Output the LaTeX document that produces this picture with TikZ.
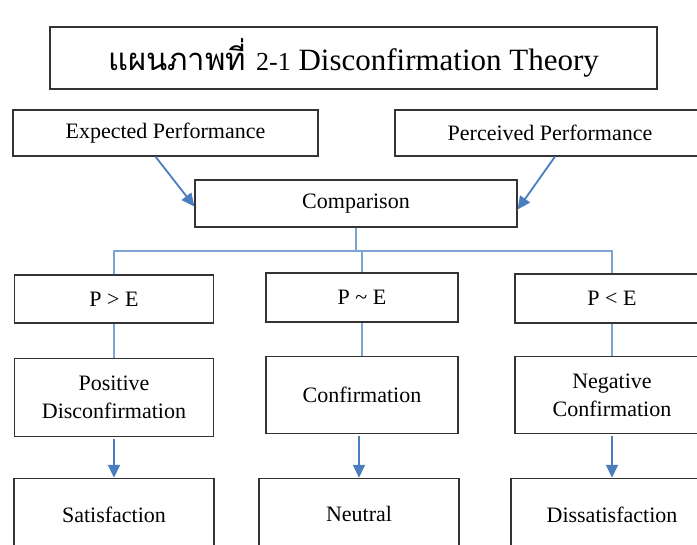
\documentclass[tikz,border=0pt]{standalone}
\usepackage{fontspec}
\setmainfont{Liberation Serif}
\newfontfamily\thaifont[Script=Thai]{Loma}
\usetikzlibrary{
    arrows.meta,
    positioning,
    calc
}
\definecolor{flowblue}{RGB}{74,126,190}
\definecolor{treeblue}{RGB}{125,163,212}

\begin{document}
\begin{tikzpicture}[
    x=1pt, y=-1pt,
    box/.style={
        draw=black!80,
        line width=1.2pt,
        inner sep=0pt,
        align=center,
        font=\fontsize{22}{28}\selectfont
    },
    titlebox/.style={
        box,
        minimum width=607pt,
        minimum height=62pt,
        font=\fontsize{31}{36}\selectfont
    },
    arrow/.style={
        -{Triangle[length=13pt,width=12pt]},
        draw=flowblue,
        line width=1.8pt
    },
    branch/.style={
        draw=treeblue,
        line width=1.3pt
    }
]
\useasboundingbox (0,0) rectangle (697,545);
\clip (0,0) rectangle (697,545);

\node[titlebox] (title) at (353.5,58)
    {{\thaifont\fontsize{31}{36}\selectfont แผนภาพที่}\hspace{10pt}{\fontsize{26}{30}\selectfont 2-1} Disconfirmation Theory};

\node[box, minimum width=305pt, minimum height=46pt] (expected) at (165.5,133)
    {Expected Performance};
\node[box, minimum width=310pt, minimum height=46pt] (perceived) at (550,133)
    {Perceived Performance};
\node[box, minimum width=322pt, minimum height=47pt] (comparison) at (356,203.5)
    {Comparison};

\node[box, minimum width=199pt, minimum height=48pt] (pgreater) at (114,299)
    {P > E};
\node[box, minimum width=192pt, minimum height=49pt] (psimilar) at (362,297.5)
    {P \textasciitilde{} E};
\node[box, minimum width=194pt, minimum height=49pt] (pless) at (612,298.5)
    {P < E};

\node[box, minimum width=199pt, minimum height=78pt, below=34pt of pgreater] (positive)
    {Positive\\Disconfirmation};
\node[box, minimum width=192pt, minimum height=77pt, below=33pt of psimilar] (confirm)
    {Confirmation};
\node[box, minimum width=194pt, minimum height=77pt, below=32.5pt of pless] (negative)
    {Negative\\Confirmation};

\node[box, minimum width=200pt, minimum height=72pt, below=41pt of positive] (satisfied)
    {Satisfaction};
\node[box, minimum width=200pt, minimum height=72pt, below=44pt of confirm, xshift=-3pt] (neutral)
    {Neutral};
\node[box, minimum width=202pt, minimum height=72pt, below=43.5pt of negative] (dissatisfied)
    {Dissatisfaction};

% inputs into the comparison
\draw[arrow] ([xshift=-10pt]expected.south) -- ([yshift=-3pt]comparison.west);
\draw[arrow] ([xshift=5pt]perceived.south) -- ([yshift=-6pt]comparison.east);

% branching into the three cases
\coordinate (bar) at (356,251);
\draw[branch] (comparison.south) -- (comparison.south |- bar);
\draw[branch] (pgreater.north) |- (bar) -| (pless.north);
\draw[branch] (psimilar.north) -- (psimilar.north |- bar);

\draw[branch] (pgreater) -- (positive);
\draw[branch] (psimilar) -- (confirm);
\draw[branch] (pless) -- (negative);

% outcomes
\draw[arrow] ([yshift=-2pt]positive.south) -- (satisfied.north -| positive.south);
\draw[arrow] ([yshift=-2pt]confirm.south -| neutral.north) -- (neutral.north);
\draw[arrow] ([yshift=-2pt]negative.south) -- (dissatisfied.north -| negative.south);

\end{tikzpicture}
\end{document}
